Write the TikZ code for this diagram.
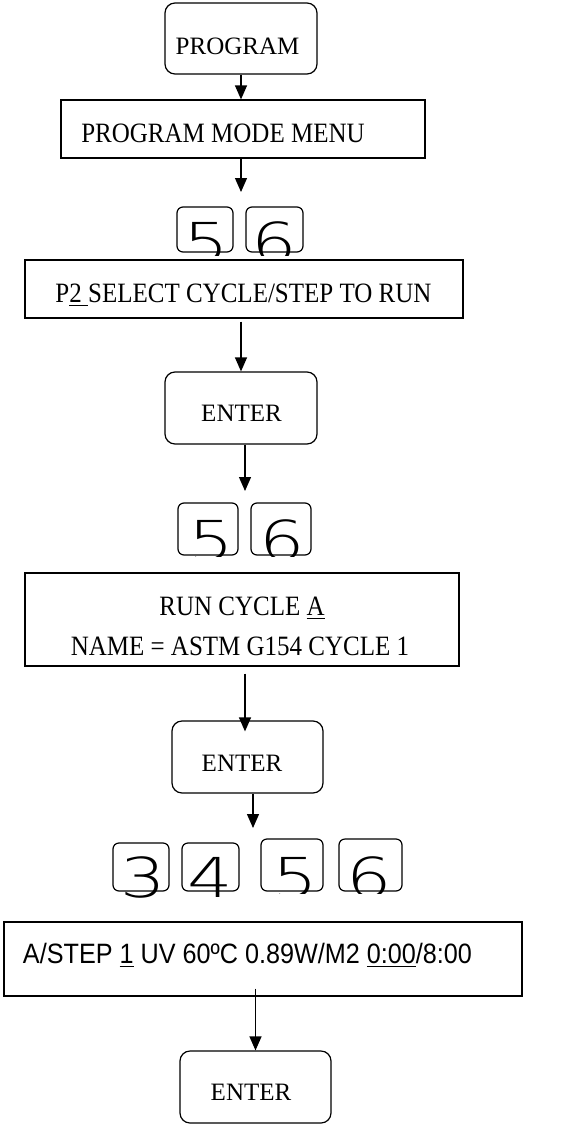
\documentclass[tikz,border=0pt]{standalone}
\usepackage{fontspec}
\setmainfont{Liberation Serif}
% display text of the menu screens is set slightly condensed and tall
\newfontfamily\tallserif[FakeStretch=0.893]{Liberation Serif}
\newfontfamily\lcdsans[FakeStretch=0.9]{Liberation Sans}
\IfFontExistsTF{DejaVu Sans ExtraLight}
  {\newfontfamily\keyfont[FakeStretch=1.3]{DejaVu Sans ExtraLight}}
  {\newfontfamily\keyfont[FakeStretch=1.3]{Liberation Sans}}
\usetikzlibrary{arrows.meta}

% underline drawn as a rule below the text
\newcommand\undl[1]{\setbox0\hbox{#1}\rlap{\rule[-4.2pt]{\wd0}{1.2pt}}\box0\relax}

\tikzset{
  box/.style={draw, line width=1.2pt, inner sep=0pt},
  sqbox/.style={box},
  rbox/.style={box, rounded corners=10pt},
  keycap/.style={box, rounded corners=6pt},
  txt/.style={anchor=base, inner sep=0pt, font=\fontsize{25}{30}\selectfont},
  scr/.style={anchor=base, inner sep=0pt, font=\tallserif\fontsize{28}{33}\selectfont},
  lcd/.style={anchor=base, inner sep=0pt, font=\lcdsans\fontsize{28}{33}\selectfont},
  digit/.style={anchor=base, inner sep=0pt, font=\keyfont\fontsize{55}{60}\selectfont},
  arr/.style={line width=1.2pt, -{Triangle[length=14pt,width=12pt]}}
}

\begin{document}
\begin{tikzpicture}[x=1pt,y=-1pt]
\fill[white] (0,0) rectangle (579,1124);
\useasboundingbox (0,0) rectangle (579,1124);

% ---- boxes ----
\node[rbox, minimum width=152pt, minimum height=71pt] (prog) at (241,38.5) {};
\node[sqbox, minimum width=364pt, minimum height=58pt] (pmm) at (243,129) {};
\node[keycap, minimum width=56pt, minimum height=45pt] (k5a) at (205,229.5) {};
\node[keycap, minimum width=57pt, minimum height=45pt] (k6a) at (274.5,229.5) {};
\node[sqbox, minimum width=438pt, minimum height=58pt] (sel) at (244,289) {};
\node[rbox, minimum width=152pt, minimum height=72pt] (ent1) at (241,408) {};
\node[keycap, minimum width=60pt, minimum height=52pt] (k5b) at (208,529) {};
\node[keycap, minimum width=60pt, minimum height=52pt] (k6b) at (281,529) {};
\node[sqbox, minimum width=434pt, minimum height=93pt] (run) at (242,619.5) {};
\node[rbox, minimum width=151pt, minimum height=72pt] (ent2) at (247.5,757) {};
\node[keycap, minimum width=56pt, minimum height=48pt] (k3) at (141,867) {};
\node[keycap, minimum width=57pt, minimum height=48pt] (k4) at (210.5,867) {};
\node[keycap, minimum width=62pt, minimum height=52pt] (k5c) at (292,865) {};
\node[keycap, minimum width=63pt, minimum height=52pt] (k6c) at (370.5,865) {};
\node[sqbox, minimum width=518pt, minimum height=74pt] (step) at (263,959) {};
\node[rbox, minimum width=151pt, minimum height=72pt] (ent3) at (255.5,1087) {};

% ---- box texts ----
\node[txt] (tprog) at (237.5,55) {PROGRAM};
\node[scr] (tpmm) at (223,142) {PROGRAM MODE MENU};
\node[scr] (tsel) at (243.5,302) {P\undl{2\ }SELECT CYCLE/STEP TO RUN};
\begin{scope}
  \clip (160,380) rectangle (320,420.5);
  \node[txt] (tent1) at (241.5,421) {ENTER};
\end{scope}
\node[scr] (trun) at (242,615) {RUN CYCLE \undl{A}};
\begin{scope}
  \clip (30,620) rectangle (455,655);
  \node[scr] (tname) at (240,655) {NAME = ASTM G154 CYCLE 1};
\end{scope}
\node[txt] (tent2) at (242,771) {ENTER};
\node[lcd] (tstep) at (247.5,963) {A/STEP \undl{1} UV 60ºC 0.89W/M2 \undl{0:00}/8:00};
\node[txt] (tent3) at (251,1100) {ENTER};

% ---- key digits ----
\begin{scope}
  \clip (150,200) rectangle (330,255);
  \node[digit] (d5a) at (206.5,262) {5};
  \node[digit] (d6a) at (274,262) {6};
\end{scope}
\begin{scope}
  \clip (150,495) rectangle (330,556);
  \node[digit] (d5b) at (211,560) {5};
  \node[digit] (d6b) at (282,560) {6};
\end{scope}
\node[digit] (d3) at (143,897) {3};
\node[digit] (d4) at (210,897) {4};
\begin{scope}
  \clip (250,830) rectangle (420,893);
  \node[digit] (d5c) at (295,897) {5};
  \node[digit] (d6c) at (369,897) {6};
\end{scope}

% ---- connectors ----
\coordinate (tipA) at (241,192);
\coordinate (tipB) at (245,491);
\coordinate (colC) at (245,0);
\coordinate (tipD) at (253,828);

\draw[arr] (prog.south) -- (prog.south |- pmm.north);
\draw[arr] (pmm.south -| tipA) -- (tipA);
\draw[arr, shorten <=3pt] (sel.south -| ent1.north) -- (ent1.north);
\draw[arr] (ent1.south -| tipB) -- (tipB);
\draw[arr, shorten <=7pt, shorten >=-11pt] (run.south -| colC) -- (ent2.north -| colC);
\draw[arr] (ent2.south -| tipD) -- (tipD);
\draw[arr, shorten <=-8pt] (step.south -| ent3.north) -- (ent3.north);
\end{tikzpicture}
\end{document}
